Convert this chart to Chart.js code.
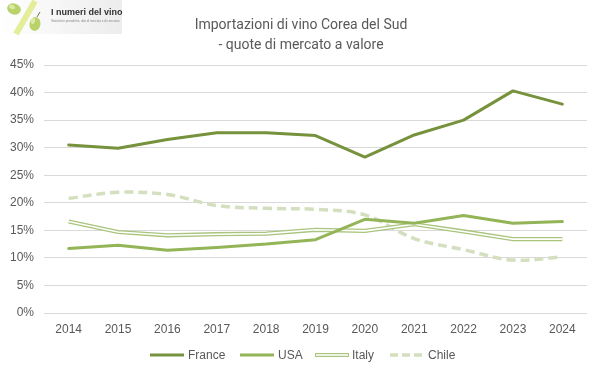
<!DOCTYPE html>
<html>
<head>
<meta charset="utf-8">
<script src="https://cdn.jsdelivr.net/npm/chart.js@4.4.1/dist/chart.umd.min.js"></script>
<style>
  html, body { margin: 0; padding: 0; background: #ffffff; }
  #wrap { width: 601px; height: 378px; position: relative; }
</style>
</head>
<body>
<div id="wrap"><canvas id="c" width="601" height="378"></canvas></div>
<script>
const years = ['2014','2015','2016','2017','2018','2019','2020','2021','2022','2023','2024'];
const france = [30.5, 29.9, 31.5, 32.7, 32.7, 32.2, 28.3, 32.3, 35.0, 40.3, 37.9];
const usa    = [11.7, 12.3, 11.4, 11.9, 12.5, 13.3, 17.0, 16.3, 17.7, 16.3, 16.6];
const italy  = [16.6, 14.7, 14.1, 14.3, 14.4, 15.1, 14.9, 16.1, 14.8, 13.4, 13.4];
const chile  = [20.8, 21.9, 21.5, 19.5, 19.0, 18.8, 17.8, 13.5, 11.5, 9.6, 10.2];
const yTicks = [0, 5, 10, 15, 20, 25, 30, 35, 40, 45];
const titleLines = ['Importazioni di vino Corea del Sud', '- quote di mercato a valore'];
const seriesNames = ['France', 'USA', 'Italy', 'Chile'];

const C_FR = '#76923C';
const C_US = '#93B457';
const C_IT = '#A9C47C';
const C_CL = '#D3DFBE';
const TXT = '#595959';

const decor = {
  id: 'decor',
  afterDraw(chart) {
    const ctx = chart.ctx;
    ctx.save();
    // logo
    const g = ctx.createLinearGradient(0, 0, 125, 0);
    g.addColorStop(0, '#ffffff');
    g.addColorStop(1, '#ececec');
    ctx.fillStyle = g;
    ctx.fillRect(0, 0, 122, 34);
    ctx.strokeStyle = '#E4EE9A';
    ctx.lineWidth = 6;
    ctx.beginPath(); ctx.moveTo(16, 34); ctx.lineTo(35, 1); ctx.stroke();
    ctx.fillStyle = '#B9D36A';
    ctx.beginPath(); ctx.ellipse(14, 9, 7, 5.5, 0.3, 0, Math.PI * 2); ctx.fill();
    ctx.beginPath(); ctx.ellipse(35, 24, 5.5, 7, 0.2, 0, Math.PI * 2); ctx.fill();
    ctx.fillStyle = '#DCEAA8';
    ctx.beginPath(); ctx.ellipse(12, 7, 3, 2, 0.3, 0, Math.PI * 2); ctx.fill();
    ctx.beginPath(); ctx.ellipse(33, 21, 2, 3, 0.2, 0, Math.PI * 2); ctx.fill();
    ctx.strokeStyle = '#7A6A4A'; ctx.lineWidth = 1;
    ctx.beginPath(); ctx.moveTo(37, 17); ctx.lineTo(40, 12); ctx.stroke();
    ctx.fillStyle = '#333333';
    ctx.font = 'bold 9px "Liberation Sans", Arial, sans-serif';
    ctx.textBaseline = 'middle';
    ctx.textAlign = 'left';
    ctx.fillText('I numeri del vino', 51, 13);
    ctx.fillStyle = '#888888';
    ctx.font = '3px "Liberation Sans", Arial, sans-serif';
    ctx.fillText('Statistiche periodiche, dati di mercato e di consumo', 51, 21);

    // title
    ctx.fillStyle = TXT;
    ctx.font = '14px "Roboto", sans-serif';
    ctx.textAlign = 'center';
    ctx.fillText(titleLines[0], 301, 25);
    ctx.fillText(titleLines[1], 301, 45);

    // legend
    const items = [
      { x: 150, tx: 188, name: seriesNames[0], type: 'solid', color: C_FR },
      { x: 240, tx: 278, name: seriesNames[1], type: 'solid', color: C_US },
      { x: 315, tx: 352, name: seriesNames[2], type: 'double', color: C_IT },
      { x: 390, tx: 428, name: seriesNames[3], type: 'dash', color: C_CL }
    ];
    const ly = 355;
    ctx.lineCap = 'butt';
    items.forEach(it => {
      ctx.beginPath();
      ctx.moveTo(it.x, ly); ctx.lineTo(it.x + 34, ly);
      ctx.strokeStyle = it.color;
      if (it.type === 'dash') { ctx.setLineDash([8, 4]); ctx.lineWidth = 3.5; }
      else if (it.type === 'double') { ctx.setLineDash([]); ctx.lineWidth = 4.2; }
      else { ctx.setLineDash([]); ctx.lineWidth = 3; }
      ctx.stroke();
      if (it.type === 'double') {
        ctx.beginPath();
        ctx.moveTo(it.x + 1, ly); ctx.lineTo(it.x + 33, ly);
        ctx.strokeStyle = '#ffffff'; ctx.lineWidth = 1.6; ctx.stroke();
      }
      ctx.setLineDash([]);
      ctx.fillStyle = TXT;
      ctx.font = '12px "Liberation Sans", Arial, sans-serif';
      ctx.textAlign = 'left';
      ctx.textBaseline = 'middle';
      ctx.fillText(it.name, it.tx, ly + 1);
    });
    ctx.restore();
  }
};

new Chart(document.getElementById('c'), {
  type: 'line',
  data: {
    labels: years,
    datasets: [
      { label: seriesNames[0], data: france, borderColor: C_FR, borderWidth: 3, pointRadius: 0, tension: 0, order: 1, borderCapStyle: 'round', borderJoinStyle: 'round' },
      { label: seriesNames[1], data: usa, borderColor: C_US, borderWidth: 3, pointRadius: 0, tension: 0, order: 2, borderCapStyle: 'round', borderJoinStyle: 'round' },
      { label: seriesNames[2] + ' inner', data: italy, borderColor: '#ffffff', borderWidth: 1.6, pointRadius: 0, tension: 0, order: 3 },
      { label: seriesNames[2], data: italy, borderColor: C_IT, borderWidth: 4.2, pointRadius: 0, tension: 0, order: 4 },
      { label: seriesNames[3], data: chile, borderColor: C_CL, borderWidth: 3.5, borderDash: [9, 5], pointRadius: 0, tension: 0.35, order: 5 }
    ]
  },
  options: {
    responsive: false,
    animation: false,
    events: [],
    layout: { padding: { top: 65, right: 14, bottom: 35, left: 0 } },
    plugins: {
      legend: { display: false },
      title: { display: false },
      tooltip: { enabled: false }
    },
    scales: {
      x: {
        offset: true,
        grid: { display: false, drawTicks: false },
        border: { display: false },
        ticks: { color: TXT, font: { family: '"Liberation Sans", Arial, sans-serif', size: 12 }, padding: 9, maxRotation: 0 },
        afterFit(s) { s.height = 30; }
      },
      y: {
        min: 0, max: 45,
        afterBuildTicks(s) { s.ticks = yTicks.map(v => ({ value: v })); },
        grid: { color: '#D9D9D9', lineWidth: 1, drawTicks: false },
        border: { display: false },
        ticks: { color: TXT, font: { family: '"Liberation Sans", Arial, sans-serif', size: 12 }, padding: 10, callback: v => v + '%' },
        afterFit(s) { s.width = 44; }
      }
    }
  },
  plugins: [decor]
});
</script>
</body>
</html>
